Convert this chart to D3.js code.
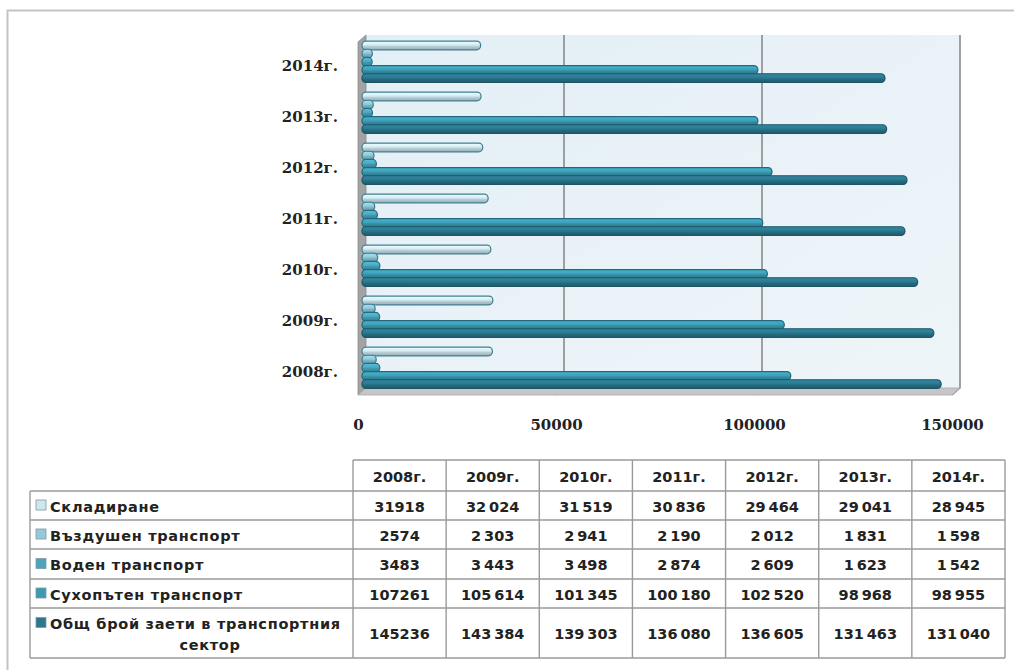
<!DOCTYPE html>
<html>
<head>
<meta charset="utf-8">
<script src="https://cdn.jsdelivr.net/npm/d3@7"></script>
<style>
body { margin: 0; background: #fff; }
</style>
</head>
<body>
<svg width="1014" height="670"></svg>
<script>
// chart data
var years = ["2008г.", "2009г.", "2010г.", "2011г.", "2012г.", "2013г.", "2014г."];
var seriesNames = ["Складиране", "Въздушен транспорт", "Воден транспорт", "Сухопътен транспорт", "Общ брой заети в транспортния сектор"];
var storage = [31918, 32024, 31519, 30836, 29464, 29041, 28945];
var airTransport = [2574, 2303, 2941, 2190, 2012, 1831, 1598];
var waterTransport = [3483, 3443, 3498, 2874, 2609, 1623, 1542];
var landTransport = [107261, 105614, 101345, 100180, 102520, 98968, 98955];
var totalEmployed = [145236, 143384, 139303, 136080, 136605, 131463, 131040];
var xTicks = [0, 50000, 100000, 150000];

var seriesValues = [storage, airTransport, waterTransport, landTransport, totalEmployed];
var barColors = ["#d2ebf4", "#8ecadb", "#4aaac3", "#3da1ba", "#2b7a92"];
var edgeColors = ["#3f7f8f", "#3a7c8c", "#2b6b7c", "#24677a", "#1d5565"];
var legendColors = ["#cde7ef", "#96c9d7", "#4ba4bc", "#3b9bb0", "#2e768c"];

var svg = d3.select("svg");
var serifFont = "'DejaVu Serif', serif";
var sansFont = "'DejaVu Sans', sans-serif";

// outer frame
svg.append("rect")
    .attr("x", 7.5).attr("y", 10.5)
    .attr("width", 1100).attr("height", 800)
    .attr("fill", "none")
    .attr("stroke", "#c4c4c4")
    .attr("stroke-width", 2);

// 3d depth
var depthX = 8, depthY = 7;
var frontZero = 358;
var xFront = d3.scaleLinear([0, 150000], [frontZero, frontZero + 594]);
var xMid = d3.scaleLinear([0, 150000], [frontZero + depthX / 2, frontZero + 594 + depthX / 2]);
var xBack = d3.scaleLinear([0, 150000], [frontZero + depthX, frontZero + 594 + depthX]);
var wallTop = 35, floorBack = 388;

var defs = svg.append("defs");
var wallGrad = defs.append("linearGradient").attr("id", "wallGrad").attr("x1", 0).attr("y1", 0).attr("x2", 1).attr("y2", 1);
wallGrad.append("stop").attr("offset", 0).attr("stop-color", "#e3eff6");
wallGrad.append("stop").attr("offset", 1).attr("stop-color", "#eef5f9");

seriesNames.forEach(function(name, i) {
    var g = defs.append("linearGradient").attr("id", "barGrad" + i)
        .attr("x1", 0).attr("y1", 0).attr("x2", 0).attr("y2", 1);
    var c = d3.color(barColors[i]);
    g.append("stop").attr("offset", 0).attr("stop-color", c.brighter(0.35));
    g.append("stop").attr("offset", 0.45).attr("stop-color", c);
    g.append("stop").attr("offset", 0.6).attr("stop-color", c.darker(0.35));
    g.append("stop").attr("offset", 1).attr("stop-color", c.darker(0.9));
});

// back wall
svg.append("rect")
    .attr("x", xBack(0)).attr("y", wallTop)
    .attr("width", xBack(150000) - xBack(0))
    .attr("height", floorBack - wallTop)
    .attr("fill", "url(#wallGrad)");

// gridlines
svg.append("g")
    .selectAll("path")
    .data(xTicks.slice(1))
    .enter()
        .append("path")
        .attr("d", function(d) {
            return "M" + xBack(d) + "," + wallTop + "V" + floorBack + "L" + xFront(d) + "," + (floorBack + depthY);
        })
        .attr("fill", "none")
        .attr("stroke", "#8a8a8a")
        .attr("stroke-width", 1.6);

// left wall
svg.append("path")
    .attr("d", "M" + xFront(0) + "," + (wallTop + depthY) + "L" + xBack(0) + "," + wallTop +
        "V" + floorBack + "L" + xFront(0) + "," + (floorBack + depthY) + "Z")
    .attr("fill", "#a3a3a3")
    .attr("stroke", "#8c8c8c")
    .attr("stroke-width", 0.8);

// floor
svg.append("path")
    .attr("d", "M" + xFront(0) + "," + (floorBack + depthY) + "L" + xBack(0) + "," + floorBack +
        "H" + xBack(150000) + "L" + xFront(150000) + "," + (floorBack + depthY) + "Z")
    .attr("fill", "#c6c6c6")
    .attr("stroke", "#a8a8a8")
    .attr("stroke-width", 0.8);

// category scales
var yScale = d3.scaleBand()
    .domain(years.slice().reverse())
    .range([36, 393])
    .paddingInner(0.2)
    .paddingOuter(0.1);
var ySeries = d3.scaleBand()
    .domain(d3.range(seriesNames.length))
    .range([0, yScale.bandwidth()]);

var barData = [];
years.forEach(function(year, yi) {
    seriesValues.forEach(function(vals, si) {
        barData.push({ year: year, series: si, value: vals[yi] });
    });
});

svg.append("g")
    .selectAll("rect")
    .data(barData)
    .enter()
        .append("rect")
        .attr("x", xMid(0))
        .attr("y", function(d) { return yScale(d.year) + ySeries(d.series); })
        .attr("width", function(d) { return xMid(d.value) - xMid(0) + 4; })
        .attr("height", ySeries.bandwidth() + 0.6)
        .attr("rx", 4)
        .attr("fill", function(d) { return "url(#barGrad" + d.series + ")"; })
        .attr("stroke", function(d) { return edgeColors[d.series]; })
        .attr("stroke-width", 1.2);

// axes
var xAxis = d3.axisBottom(xFront).tickValues(xTicks).tickSize(0).tickPadding(3).tickFormat(d3.format("d"));
var gx = svg.append("g")
    .attr("transform", "translate(0, 416)")
    .call(xAxis);
gx.select(".domain").remove();
gx.selectAll("text")
    .attr("font-family", serifFont)
    .attr("font-weight", "bold")
    .attr("font-size", 15)
    .attr("fill", "#222");

var yAxis = d3.axisLeft(yScale).tickSize(0).tickPadding(3);
var gy = svg.append("g")
    .attr("transform", "translate(341, 5)")
    .call(yAxis);
gy.select(".domain").remove();
gy.selectAll("text")
    .attr("font-family", serifFont)
    .attr("font-weight", "bold")
    .attr("font-size", 15)
    .attr("fill", "#222");

// data table
var colScale = d3.scaleBand().domain(years).range([353, 1005]);
var headerTop = 460;
var rowEdges = [491, 520, 549, 579, 608, 658];
var labelLeft = 30;
var lineColor = "#9a9a9a";
var table = svg.append("g");

table.append("line")
    .attr("x1", colScale.range()[0]).attr("x2", colScale.range()[1])
    .attr("y1", headerTop).attr("y2", headerTop)
    .attr("stroke", lineColor).attr("stroke-width", 1.4);
table.selectAll(".hline")
    .data(rowEdges)
    .enter()
        .append("line")
        .attr("x1", labelLeft).attr("x2", colScale.range()[1])
        .attr("y1", function(d) { return d; }).attr("y2", function(d) { return d; })
        .attr("stroke", lineColor).attr("stroke-width", 1.4);
table.append("line")
    .attr("x1", labelLeft).attr("x2", labelLeft)
    .attr("y1", rowEdges[0]).attr("y2", rowEdges[rowEdges.length - 1])
    .attr("stroke", lineColor).attr("stroke-width", 1.4);
table.selectAll(".vline")
    .data(years.concat(["end"]))
    .enter()
        .append("line")
        .attr("x1", function(d) { return d == "end" ? colScale.range()[1] : colScale(d); })
        .attr("x2", function(d) { return d == "end" ? colScale.range()[1] : colScale(d); })
        .attr("y1", headerTop).attr("y2", rowEdges[rowEdges.length - 1])
        .attr("stroke", lineColor).attr("stroke-width", 1.4);

function cellText(sel) {
    return sel.attr("font-family", sansFont)
        .attr("font-weight", "bold")
        .attr("font-size", 14.5)
        .attr("fill", "#222")
        .attr("dominant-baseline", "central");
}

// header
table.selectAll(".head")
    .data(years)
    .enter()
        .append("text")
        .attr("x", function(d) { return colScale(d) + colScale.bandwidth() / 2; })
        .attr("y", (headerTop + rowEdges[0]) / 2 + 1)
        .attr("text-anchor", "middle")
        .text(function(d) { return d; })
        .call(cellText);

var spaced = d3.formatLocale({ decimal: ",", thousands: "\u2009", grouping: [3], currency: ["", ""] }).format(",d");

seriesNames.forEach(function(name, si) {
    var top = rowEdges[si], bottom = rowEdges[si + 1];
    var mid = (top + bottom) / 2;
    var lines = si == 4 ? ["Общ брой заети в транспортния", "сектор"] : [name];
    var firstY = lines.length > 1 ? mid - 10 : mid;

    table.append("rect")
        .attr("x", 36).attr("y", firstY - 5.5)
        .attr("width", 10).attr("height", 10)
        .attr("fill", legendColors[si])
        .attr("stroke", "#7f9aa2")
        .attr("stroke-width", 0.8);

    table.append("text")
        .attr("x", 50).attr("y", firstY + 1)
        .attr("letter-spacing", 0.7)
        .text(lines[0])
        .call(cellText);
    if (lines.length > 1) {
        table.append("text")
            .attr("x", 210).attr("y", firstY + 22)
            .attr("text-anchor", "middle")
            .attr("letter-spacing", 0.7)
            .text(lines[1])
            .call(cellText);
    }

    table.selectAll(".val" + si)
        .data(seriesValues[si])
        .enter()
            .append("text")
            .attr("x", function(d, i) { return colScale(years[i]) + colScale.bandwidth() / 2; })
            .attr("y", mid + 1)
            .attr("text-anchor", "middle")
            .text(function(d, i) { return i == 0 ? String(d) : spaced(d); })
            .call(cellText);
});
</script>
</body>
</html>
